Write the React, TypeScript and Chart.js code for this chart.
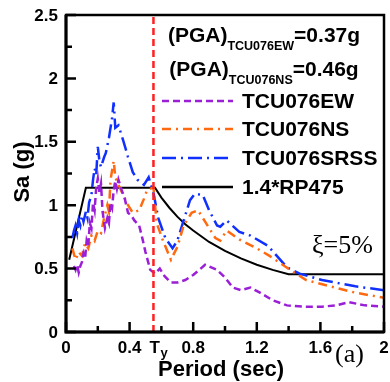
import React, { useEffect, useRef } from "react";
import { Chart, registerables } from "chart.js";
Chart.register(...registerables);

// ---- data ----
const ewT = [0.05, 0.06, 0.07, 0.08, 0.09, 0.1, 0.11, 0.12, 0.13, 0.14, 0.15, 0.16, 0.17, 0.18, 0.19, 0.2, 0.21, 0.22, 0.23, 0.245, 0.26, 0.27, 0.28, 0.29, 0.3, 0.31, 0.32, 0.33, 0.35, 0.37, 0.39, 0.41, 0.43, 0.46, 0.48, 0.5, 0.53, 0.56, 0.59, 0.62, 0.66, 0.7, 0.75, 0.8, 0.875, 0.95, 1.0, 1.05, 1.1, 1.16, 1.22, 1.3, 1.39, 1.5, 1.61, 1.7, 1.78, 1.88, 2.0];
const ewSa = [0.52, 0.49, 0.53, 0.47, 0.52, 0.55, 0.62, 0.58, 0.72, 0.68, 0.86, 0.82, 1.02, 0.96, 1.14, 1.21, 1.1, 1.17, 0.95, 0.82, 0.9, 0.86, 1.02, 0.98, 1.12, 1.19, 1.13, 1.2, 1.12, 1.05, 0.94, 0.92, 0.88, 0.84, 0.74, 0.63, 0.49, 0.46, 0.5, 0.44, 0.39, 0.39, 0.41, 0.45, 0.53, 0.49, 0.43, 0.35, 0.33, 0.35, 0.31, 0.25, 0.21, 0.2, 0.2, 0.21, 0.235, 0.21, 0.2];

const nsT = [0.04, 0.06, 0.08, 0.1, 0.12, 0.14, 0.16, 0.18, 0.2, 0.22, 0.24, 0.26, 0.27, 0.28, 0.3, 0.31, 0.33, 0.36, 0.39, 0.42, 0.46, 0.49, 0.51, 0.55, 0.57, 0.61, 0.66, 0.7, 0.74, 0.79, 0.83, 0.875, 0.94, 0.97, 1.01, 1.09, 1.2, 1.28, 1.41, 1.51, 1.66, 1.82, 2.0];
const nsSa = [0.66, 0.57, 0.63, 0.6, 0.7, 0.66, 0.76, 0.72, 0.8, 0.78, 0.9, 1.0, 0.95, 1.2, 1.35, 1.22, 1.16, 1.08, 1.0, 0.94, 0.96, 1.05, 1.12, 1.14, 0.86, 0.72, 0.57, 0.67, 0.84, 0.94, 0.96, 0.87, 0.74, 0.72, 0.8, 0.73, 0.66, 0.6, 0.49, 0.41, 0.36, 0.31, 0.27];

const srssT = [0.04, 0.05, 0.06, 0.07, 0.08, 0.09, 0.1, 0.11, 0.125, 0.135, 0.145, 0.16, 0.17, 0.18, 0.19, 0.2, 0.21, 0.22, 0.24, 0.25, 0.27, 0.29, 0.3, 0.31, 0.33, 0.36, 0.39, 0.42, 0.45, 0.49, 0.52, 0.55, 0.58, 0.625, 0.67, 0.7, 0.74, 0.78, 0.81, 0.86, 0.9, 0.95, 0.97, 1.01, 1.09, 1.16, 1.27, 1.39, 1.47, 1.61, 1.82, 2.0];
const srssSa = [0.74, 0.8, 0.84, 0.78, 0.88, 0.84, 0.92, 0.87, 0.95, 0.9, 1.02, 1.08, 1.2, 1.29, 1.24, 1.46, 1.35, 1.3, 1.38, 1.41, 1.53, 1.69, 1.81, 1.61, 1.63, 1.51, 1.38, 1.26, 1.2, 1.16, 1.22, 1.1, 0.9, 0.74, 0.66, 0.72, 0.88, 1.04, 1.09, 1.08, 0.96, 0.84, 0.83, 0.88, 0.79, 0.76, 0.68, 0.51, 0.46, 0.41, 0.36, 0.33];

const rpT = [0.02, 0.125, 0.56, 0.6, 0.65, 0.7, 0.75, 0.8, 0.9, 1.0, 1.1, 1.2, 1.3, 1.4, 2.0];
const rpSa = [0.57, 1.137, 1.137, 1.06, 0.98, 0.91, 0.85, 0.8, 0.71, 0.64, 0.58, 0.53, 0.49, 0.455, 0.455];

const Ty = 0.55;
const xMajor = [0, 0.4, 0.8, 1.2, 1.6, 2];
const xLabels = ["0", "0.4", "0.8", "1.2", "1.6", "2"];
const xMinor = [0.2, 0.6, 1.0, 1.4, 1.8];
const yMajor = [0, 0.5, 1, 1.5, 2, 2.5];
const yLabels = ["0", "0.5", "1", "1.5", "2", "2.5"];
const yMinor = [0.25, 0.75, 1.25, 1.75, 2.25];

const seriesNames = ["TCU076EW", "TCU076NS", "TCU076SRSS", "1.4*RP475"];
const pgaLabels = [
  { sub: "TCU076EW", value: "=0.37g" },
  { sub: "TCU076NS", value: "=0.46g" },
];

const PURPLE = "#9a1fd6";
const ORANGE = "#ff6a10";
const BLUE = "#1030ff";
const RED = "#ff2020";

const pts = (xs: number[], ys: number[]) => xs.map((x, i) => ({ x, y: ys[i] }));

const SANS = "'Liberation Sans', Arial, sans-serif";
const SERIF = "'Liberation Serif', 'Times New Roman', serif";

const decorPlugin = {
  id: "decor",
  afterDraw(chart: any) {
    const ctx: CanvasRenderingContext2D = chart.ctx;
    const xs = chart.scales.x;
    const ys = chart.scales.y;
    const ca = chart.chartArea;
    ctx.save();
    // frame
    ctx.strokeStyle = "#000";
    ctx.lineWidth = 2.5;
    ctx.strokeRect(ca.left, ca.top, ca.right - ca.left, ca.bottom - ca.top);
    ctx.lineWidth = 3;
    ctx.beginPath();
    ctx.moveTo(ca.left, ca.top);
    ctx.lineTo(ca.left, ca.bottom);
    ctx.lineTo(ca.right, ca.bottom);
    ctx.stroke();
    // ticks
    ctx.lineWidth = 2.5;
    ctx.beginPath();
    xMajor.forEach((v) => {
      const px = xs.getPixelForValue(v);
      ctx.moveTo(px, ca.bottom);
      ctx.lineTo(px, ca.bottom - 10);
    });
    xMinor.forEach((v) => {
      const px = xs.getPixelForValue(v);
      ctx.moveTo(px, ca.bottom);
      ctx.lineTo(px, ca.bottom - 6);
    });
    yMajor.forEach((v) => {
      const py = ys.getPixelForValue(v);
      ctx.moveTo(ca.left, py);
      ctx.lineTo(ca.left + 10, py);
    });
    yMinor.forEach((v) => {
      const py = ys.getPixelForValue(v);
      ctx.moveTo(ca.left, py);
      ctx.lineTo(ca.left + 6, py);
    });
    ctx.stroke();
    // tick labels
    ctx.fillStyle = "#000";
    ctx.font = `bold 17px ${SANS}`;
    ctx.textAlign = "center";
    ctx.textBaseline = "alphabetic";
    xMajor.forEach((v, i) => {
      ctx.fillText(xLabels[i], xs.getPixelForValue(v), 353);
    });
    // Ty label
    const tyPx = xs.getPixelForValue(Ty);
    ctx.textAlign = "left";
    ctx.fillText("T", tyPx - 4, 353);
    ctx.font = `bold 13px ${SANS}`;
    ctx.fillText("y", tyPx + 7, 357);
    ctx.font = `bold 17px ${SANS}`;
    ctx.textAlign = "right";
    ctx.textBaseline = "middle";
    yMajor.forEach((v, i) => {
      ctx.fillText(yLabels[i], ca.left - 8, ys.getPixelForValue(v) + 1);
    });
    // axis titles
    ctx.font = `bold 22px ${SANS}`;
    ctx.textAlign = "center";
    ctx.textBaseline = "alphabetic";
    ctx.fillText("Period (sec)", 221, 376);
    ctx.save();
    ctx.translate(29, 172);
    ctx.rotate(-Math.PI / 2);
    ctx.fillText("Sa (g)", 0, 0);
    ctx.restore();
    // (a) and xi
    ctx.font = `26px ${SERIF}`;
    ctx.textAlign = "left";
    ctx.fillText("(a)", 335, 362);
    ctx.fillText("\u03BE=5%", 312, 253);
    // PGA lines
    const pgaY = [42, 76];
    pgaLabels.forEach((p, i) => {
      const big = `bold 21px ${SANS}`;
      const small = `bold 12.5px ${SANS}`;
      ctx.font = big;
      const w1 = ctx.measureText("(PGA)").width;
      const w3 = ctx.measureText(p.value).width;
      ctx.font = small;
      const w2 = ctx.measureText(p.sub).width;
      const total = w1 + w2 + w3;
      let x = 264 - total / 2;
      ctx.textAlign = "left";
      ctx.font = big;
      ctx.fillText("(PGA)", x, pgaY[i]);
      x += w1;
      ctx.font = small;
      ctx.fillText(p.sub, x, pgaY[i] + 8);
      x += w2;
      ctx.font = big;
      ctx.fillText(p.value, x, pgaY[i]);
    });
    // legend
    const legY = [101, 129, 158, 187];
    const dsIdx = [1, 2, 3, 4];
    legY.forEach((y, i) => {
      const ds = chart.data.datasets[dsIdx[i]];
      ctx.save();
      ctx.strokeStyle = ds.borderColor;
      ctx.lineWidth = 2.5;
      ctx.setLineDash(ds.borderDash || []);
      ctx.beginPath();
      ctx.moveTo(162, y);
      ctx.lineTo(233, y);
      ctx.stroke();
      ctx.restore();
      ctx.font = `bold 21px ${SANS}`;
      ctx.textAlign = "left";
      ctx.textBaseline = "middle";
      ctx.fillStyle = "#000";
      ctx.fillText(seriesNames[i], 242, y + 1);
    });
    ctx.restore();
  },
};

export default function App() {
  const ref = useRef<HTMLCanvasElement>(null);
  useEffect(() => {
    document.body.style.margin = "0";
    const chart = new Chart(ref.current!, {
      type: "line",
      data: {
        datasets: [
          {
            label: "Ty",
            data: [{ x: Ty, y: 0 }, { x: Ty, y: 2.5 }],
            borderColor: RED,
            borderWidth: 2.5,
            borderDash: [7, 4],
            pointRadius: 0,
          },
          {
            label: seriesNames[0],
            data: pts(ewT, ewSa),
            borderColor: PURPLE,
            borderWidth: 2.5,
            borderDash: [7, 4],
            pointRadius: 0,
          },
          {
            label: seriesNames[1],
            data: pts(nsT, nsSa),
            borderColor: ORANGE,
            borderWidth: 2.5,
            borderDash: [9, 5, 2, 5],
            pointRadius: 0,
          },
          {
            label: seriesNames[2],
            data: pts(srssT, srssSa),
            borderColor: BLUE,
            borderWidth: 2.5,
            borderDash: [14, 5, 2, 5],
            pointRadius: 0,
          },
          {
            label: seriesNames[3],
            data: pts(rpT, rpSa),
            borderColor: "#000",
            borderWidth: 2,
            pointRadius: 0,
          },
        ],
      },
      options: {
        responsive: false,
        animation: false,
        devicePixelRatio: 1,
        layout: { padding: { left: 66, right: 6, top: 15, bottom: 50 } },
        scales: {
          x: { type: "linear", min: 0, max: 2, display: false },
          y: { type: "linear", min: 0, max: 2.5, display: false },
        },
        plugins: { legend: { display: false }, tooltip: { enabled: false } },
      },
      plugins: [decorPlugin],
    } as any);
    return () => chart.destroy();
  }, []);
  return (
    <div style={{ width: 390, height: 382 }}>
      <canvas ref={ref} width={390} height={382} style={{ display: "block" }} />
    </div>
  );
}
